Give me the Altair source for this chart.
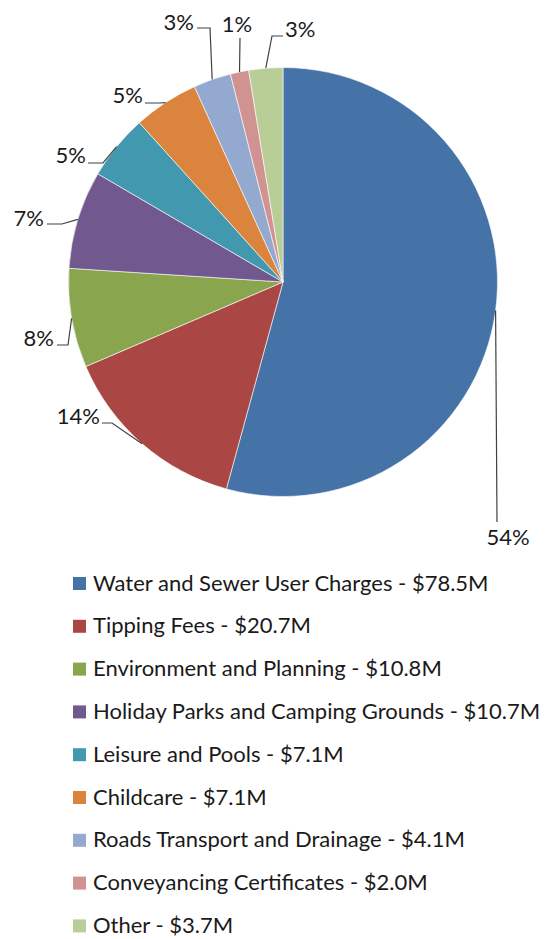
import math
import altair as alt
import pandas as pd

# ---------------- data ----------------
categories = [
    "Water and Sewer User Charges",
    "Tipping Fees",
    "Environment and Planning",
    "Holiday Parks and Camping Grounds",
    "Leisure and Pools",
    "Childcare",
    "Roads Transport and Drainage",
    "Conveyancing Certificates",
    "Other",
]
values_m = [78.5, 20.7, 10.8, 10.7, 7.1, 7.1, 4.1, 2.0, 3.7]
pct_labels = ["54%", "14%", "8%", "7%", "5%", "5%", "3%", "1%", "3%"]
colors = ["#4572A7", "#AA4643", "#89A54E", "#71588F", "#4198AF",
          "#DB843D", "#93A9CF", "#D19392", "#B9CD96"]

# ---------------- layout (image pixel frame) ----------------
W, H = 533, 923          # plot area, page margin 8px
CX, CY, R = 283, 282, 214.5
FONT = "Lato"
FS = 22
TXT = "#1a1a1a"
LINE = "#404040"

# manual label placement (text anchor point, alignment, elbow points) like the dragged Excel labels
label_layout = [
    dict(tx=508, ty=538, align="center", elbow=[(497, 522)]),
    dict(tx=100, ty=417, align="right", elbow=[(102, 423), (112, 423)]),
    dict(tx=54, ty=339, align="right", elbow=[(57, 345), (68, 345)]),
    dict(tx=44, ty=219, align="right", elbow=[(47, 224), (62, 224)]),
    dict(tx=86, ty=156, align="right", elbow=[(88, 163), (103, 163)]),
    dict(tx=143, ty=96, align="right", elbow=[(145, 103), (160, 103)]),
    dict(tx=194, ty=22.5, align="right", elbow=[(197, 28), (210, 28)]),
    dict(tx=237, ty=25, align="center", elbow=[(240, 38)]),
    dict(tx=285, ty=30, align="left", elbow=[(283, 36), (272, 36)]),
]
LEG_X_SYM, LEG_X_TXT, LEG_Y0, LEG_DY, LEG_SYM = 79.5, 93, 583.5, 42.8, 13

# ---------------- derived tables ----------------
total = sum(values_m)
pie = pd.DataFrame({"cat": categories, "val": values_m, "idx": range(len(categories))})

cum = 0.0
lines_rows, text_rows = [], []
for i, (v, lab, lay) in enumerate(zip(values_m, pct_labels, label_layout)):
    mid = (cum + v / 2) / total * 2 * math.pi
    cum += v
    ex, ey = CX + R * math.sin(mid), CY - R * math.cos(mid)
    pts = [(ex, ey)] + list(reversed(lay["elbow"]))
    for k, (px, py) in enumerate(pts):
        lines_rows.append({"g": i, "k": k, "x": px, "y": py})
    text_rows.append({"t": lab, "x": lay["tx"], "y": lay["ty"], "align": lay["align"]})

lines_df = pd.DataFrame(lines_rows)
text_df = pd.DataFrame(text_rows)

legend_df = pd.DataFrame({
    "cat": categories,
    "label": [f"{c} - ${v:.1f}M" for c, v in zip(categories, values_m)],
    "y": [LEG_Y0 + i * LEG_DY for i in range(len(categories))],
})

xs = alt.Scale(domain=[8, 8 + W], nice=False, zero=False)
ys = alt.Scale(domain=[8, 8 + H], nice=False, zero=False, reverse=True)
color_scale = alt.Scale(domain=categories, range=colors)

arc = alt.Chart(pie).mark_arc(outerRadius=R, stroke="white", strokeWidth=0.6).encode(
    theta=alt.Theta("val:Q", stack=True),
    color=alt.Color("cat:N", scale=color_scale, legend=None),
    order=alt.Order("idx:Q"),
    x=alt.value(CX - 8),
    y=alt.value(CY - 8),
)

leaders = alt.Chart(lines_df).mark_line(color=LINE, strokeWidth=1.2).encode(
    x=alt.X("x:Q", scale=xs, axis=None),
    y=alt.Y("y:Q", scale=ys, axis=None),
    detail="g:N",
    order="k:Q",
)

def label_layer(al):
    d = text_df[text_df["align"] == al]
    return alt.Chart(d).mark_text(font=FONT, fontSize=FS, color=TXT, align=al, baseline="middle").encode(
        x=alt.X("x:Q", scale=xs, axis=None),
        y=alt.Y("y:Q", scale=ys, axis=None),
        text="t:N",
    )

leg_sym = alt.Chart(legend_df).mark_square(size=LEG_SYM * LEG_SYM, opacity=1).encode(
    x=alt.value(LEG_X_SYM - 8),
    y=alt.Y("y:Q", scale=ys, axis=None),
    color=alt.Color("cat:N", scale=color_scale, legend=None),
)
leg_txt = alt.Chart(legend_df).mark_text(font=FONT, fontSize=FS, color=TXT, align="left", baseline="middle").encode(
    x=alt.value(LEG_X_TXT - 8),
    y=alt.Y("y:Q", scale=ys, axis=None),
    text="label:N",
)

chart = alt.layer(
    arc, leaders, label_layer("center"), label_layer("right"), label_layer("left"), leg_sym, leg_txt
).properties(width=W, height=H, padding=0).configure_view(stroke=None)

chart.save("out.html", embed_options={"renderer": "svg", "actions": False})
